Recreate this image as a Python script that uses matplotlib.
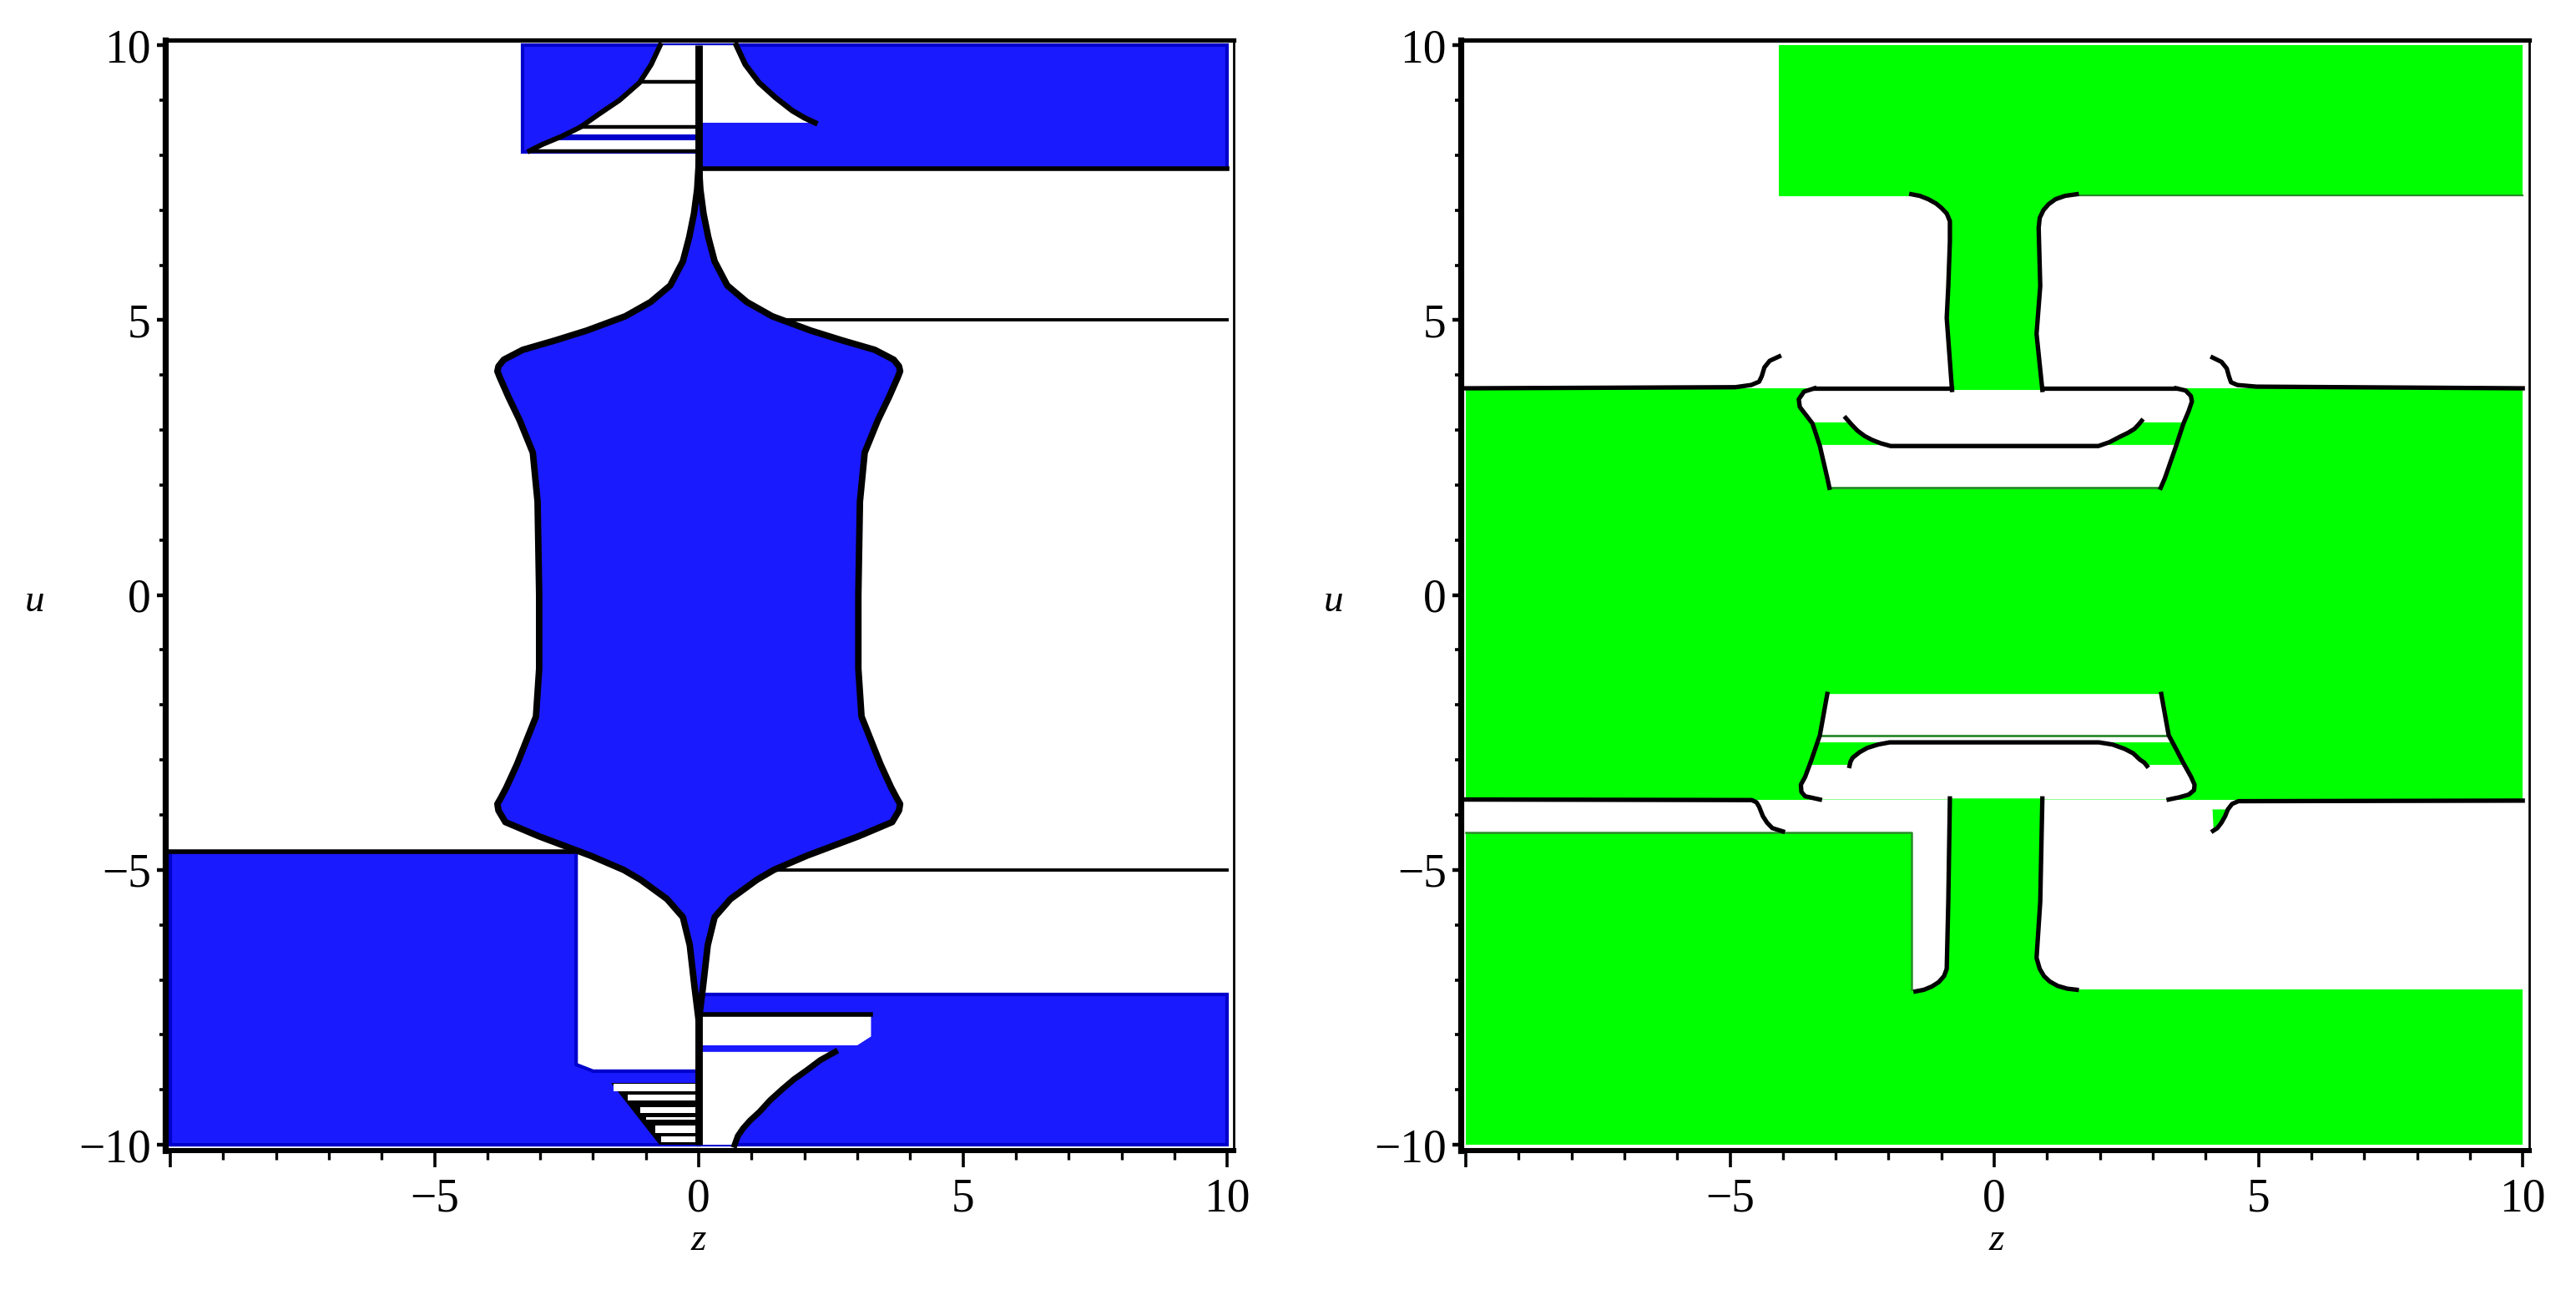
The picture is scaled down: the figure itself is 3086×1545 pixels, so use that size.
import numpy as np
import matplotlib
matplotlib.use("Agg")
import matplotlib.pyplot as plt

# ---------------- data: left panel (blue) ----------------
tl_block_x = [-3.33, 0.0, 0.0, -3.33]
tl_block_u = [10.0, 10.0, 8.06, 8.06]
tr_block_x = [0.0, 10.0, 10.0, 0.0]
tr_block_u = [10.0, 10.0, 7.75, 7.75]
bl_block_x = [-10.0, -2.32, -2.32, -2.0, 0.0, 0.0, -10.0]
bl_block_u = [-4.67, -4.67, -8.54, -8.66, -8.66, -10.0, -10.0]
br_block_x = [0.0, 10.0, 10.0, 0.0]
br_block_u = [-7.27, -7.27, -10.0, -10.0]

tl_wedge_x = [-0.73, -0.9, -1.12, -1.5, -1.9, -2.24, -2.6, -2.95, -3.2, 0.0, 0.0]
tl_wedge_u = [10.0, 9.65, 9.32, 9.0, 8.74, 8.51, 8.34, 8.2, 8.08, 8.08, 10.0]
tl_strip_x = [-2.62, 0.0, 0.0, -2.78]
tl_strip_u = [8.37, 8.37, 8.27, 8.27]
tl_rungs_u = [9.33, 8.51, 8.08]
tl_rungs_x0 = [-1.1, -2.24, -3.2]

tr_wedge_x = [0.0, 0.71, 0.88, 1.14, 1.45, 1.77, 2.0, 2.2, 0.0]
tr_wedge_u = [10.0, 10.0, 9.65, 9.32, 9.05, 8.81, 8.68, 8.59, 8.59]

br_cut_x = [0.0, 3.26, 3.26, 3.0, 0.0]
br_cut_u = [-7.65, -7.65, -8.03, -8.19, -8.19]
br_wedge_x = [0.0, 2.58, 2.3, 2.05, 1.8, 1.58, 1.35, 1.15, 0.97, 0.84, 0.74, 0.68, 0.0]
br_wedge_u = [-8.31, -8.31, -8.46, -8.64, -8.81, -8.99, -9.19, -9.4, -9.56, -9.7, -9.84, -10.0, -10.0]

bl_stair_x = [-1.66, 0.0, 0.0, -0.75]
bl_stair_u = [-8.88, -8.88, -10.0, -10.0]
stair_top = [-8.89, -9.09, -9.32, -9.49, -9.65, -9.85]
stair_bot = [-9.02, -9.19, -9.42, -9.55, -9.78, -9.95]
stair_left = [-1.61, -1.35, -1.11, -1.0, -0.82, -0.71]

blob_u = [7.85, 7.38, 6.94, 6.51, 6.07, 5.63, 5.33, 5.07, 4.81, 4.63, 4.46,
          4.28, 4.16, 4.07, 3.97, 3.6, 3.18, 2.59, 1.7, 0.0, -1.34, -2.21,
          -3.08, -3.5, -3.7, -3.8, -3.92, -4.13, -4.39, -4.74, -5.0, -5.18,
          -5.53, -5.86, -6.37, -7.13, -7.75]
blob_half = [0.0, 0.03, 0.09, 0.18, 0.30, 0.54, 0.91, 1.39, 2.12, 2.72, 3.33,
             3.69, 3.79, 3.81, 3.77, 3.6, 3.39, 3.14, 3.05, 3.02, 3.02, 3.08,
             3.44, 3.64, 3.75, 3.81, 3.79, 3.66, 3.02, 2.05, 1.42, 1.1,
             0.6, 0.3, 0.17, 0.08, 0.0]
hlines_u = [5.0, -5.0]
hlines_x0 = [1.5, 1.42]

# ---------------- data: right panel (green) ----------------
g_top_x = [-4.07, 10.0, 10.0, -4.07]
g_top_u = [10.0, 10.0, 7.26, 7.26]
g_band_x = [-10.0, 10.0, 10.0, -10.0]
g_band_u = [3.76, 3.76, -3.72, -3.72]
g_lowleft_x = [-10.0, -1.57, -1.57, -10.0]
g_lowleft_u = [-4.32, -4.32, -10.0, -10.0]
g_bottom_x = [-10.0, 10.0, 10.0, -10.0]
g_bottom_u = [-7.18, -7.18, -10.0, -10.0]

stem_top_lx = [-1.57, -1.41, -1.25, -1.1, -1.0, -0.9, -0.84, -0.84, -0.87, -0.90, -0.80]
stem_top_lu = [7.29, 7.26, 7.2, 7.12, 7.04, 6.94, 6.8, 6.43, 5.62, 5.04, 3.73]
stem_top_rx = [0.91, 0.80, 0.87, 0.84, 0.86, 0.93, 1.03, 1.16, 1.34, 1.56]
stem_top_ru = [3.73, 4.75, 5.62, 6.68, 6.86, 7.0, 7.11, 7.2, 7.26, 7.29]
stem_bot_lx = [-0.84, -0.87, -0.90, -0.95, -1.05, -1.18, -1.33, -1.49]
stem_bot_lu = [-3.70, -5.58, -6.8, -6.93, -7.04, -7.12, -7.18, -7.21]
stem_bot_rx = [1.56, 1.38, 1.2, 1.05, 0.94, 0.86, 0.80, 0.87, 0.91]
stem_bot_ru = [-7.18, -7.16, -7.11, -7.03, -6.93, -6.8, -6.6, -5.58, -3.70]

cut_top_lx = [-3.4, -3.6, -3.7, -3.68, -3.56, -3.44, -3.30, -3.16, -3.12]
cut_top_lu = [3.76, 3.7, 3.56, 3.42, 3.27, 3.12, 2.71, 2.13, 1.95]
cut_top_rx = [3.15, 3.23, 3.44, 3.58, 3.68, 3.74, 3.72, 3.62, 3.44]
cut_top_ru = [1.95, 2.13, 2.71, 3.12, 3.35, 3.52, 3.62, 3.72, 3.76]
cut_bot_lx = [-3.16, -3.30, -3.46, -3.58, -3.66, -3.65, -3.58, -3.3]
cut_bot_lu = [-1.80, -2.55, -3.0, -3.31, -3.45, -3.58, -3.66, -3.72]
cut_bot_rx = [3.3, 3.5, 3.68, 3.78, 3.79, 3.72, 3.58, 3.44, 3.30, 3.16]
cut_bot_ru = [-3.72, -3.68, -3.63, -3.55, -3.45, -3.3, -3.06, -2.8, -2.55, -1.80]

patch_tl_x = [-3.5, -2.72, -2.59, -2.31, -1.96, -3.30]
patch_tl_u = [3.14, 3.14, 2.99, 2.82, 2.73, 2.73]
patch_tr_x = [1.97, 2.38, 2.65, 2.75, 3.57, 3.44]
patch_tr_u = [2.73, 2.88, 3.02, 3.14, 3.14, 2.73]
patch_bl_x = [-3.36, -1.98, -2.40, -2.68, -2.74, -3.48]
patch_bl_u = [-2.68, -2.68, -2.78, -2.96, -3.09, -3.09]
patch_br_x = [1.98, 3.38, 3.6, 2.89, 2.75, 2.47]
patch_br_u = [-2.68, -2.68, -3.09, -3.09, -2.99, -2.8]
patch_hook_x = [4.13, 4.40, 4.30, 4.15]
patch_hook_u = [-3.90, -3.90, -4.18, -4.27]

inner_top_x = [-2.81, -2.7, -2.59, -2.45, -2.31, -2.15, -1.96, 1.97, 2.18, 2.38, 2.53, 2.65, 2.73, 2.79]
inner_top_u = [3.22, 3.1, 2.99, 2.89, 2.82, 2.76, 2.71, 2.71, 2.78, 2.88, 2.95, 3.02, 3.1, 3.17]
inner_bot_x = [-2.74, -2.72, -2.68, -2.55, -2.40, -2.2, -1.98, 1.98, 2.24, 2.47, 2.63, 2.75, 2.84, 2.89]
inner_bot_u = [-3.11, -3.03, -2.96, -2.86, -2.78, -2.72, -2.68, -2.68, -2.72, -2.80, -2.88, -2.99, -3.05, -3.11]

top_hook_lx = [-10.0, -4.9, -4.6, -4.45, -4.4, -4.35, -4.25, -4.07]
top_hook_lu = [3.76, 3.78, 3.82, 3.88, 3.98, 4.14, 4.26, 4.34]
top_hook_rx = [4.13, 4.3, 4.4, 4.44, 4.48, 4.6, 4.96, 10.0]
top_hook_ru = [4.32, 4.24, 4.12, 3.98, 3.87, 3.82, 3.79, 3.76]
bot_hook_lx = [-10.0, -4.59, -4.5, -4.45, -4.38, -4.3, -4.2, -4.0]
bot_hook_lu = [-3.72, -3.73, -3.77, -3.85, -4.02, -4.14, -4.24, -4.3]
bot_hook_rx = [4.14, 4.22, 4.3, 4.37, 4.42, 4.5, 4.62, 10.0]
bot_hook_ru = [-4.29, -4.24, -4.14, -4.02, -3.9, -3.8, -3.75, -3.74]

green_lines_u = [1.95, -2.56]
green_lines_x = [(-3.12, 3.15), (-3.28, 3.3)]

# ---------------- axes / ticks ----------------
major_ticks = [-10, -5, 0, 5, 10]
minor_ticks = [-9, -8, -7, -6, -4, -3, -2, -1, 1, 2, 3, 4, 6, 7, 8, 9]
x_tick_labels = ["", "\u22125", "0", "5", "10"]
y_tick_labels = ["\u221210", "\u22125", "0", "5", "10"]

BLUE = "#1a1aff"
BLUE_EDGE = "#0000cc"
GREEN = "#00ff00"
DKGREEN = "#2a8a2a"
SERIF = "Liberation Serif"

fig = plt.figure(figsize=(15.43, 7.725), dpi=200)
axL = fig.add_axes([0.06406, 0.1083, 0.4148, 0.8609])
axR = fig.add_axes([0.56698, 0.1083, 0.4148, 0.8609])

for ax in (axL, axR):
    ax.set_xlim(-10.1, 10.12)
    ax.set_ylim(-10.1, 10.1)
    ax.set_xticks(major_ticks)
    ax.set_xticklabels(x_tick_labels)
    ax.set_yticks(major_ticks)
    ax.set_yticklabels(y_tick_labels)
    ax.set_xticks(minor_ticks, minor=True)
    ax.set_yticks(minor_ticks, minor=True)
    ax.tick_params(axis="x", which="major", direction="out", length=7.2, width=1.3,
                   pad=4.5, labelsize=20)
    ax.tick_params(axis="x", which="minor", direction="out", length=4.0, width=1.2)
    ax.tick_params(axis="y", which="major", direction="out", length=3.6, width=1.6,
                   pad=2.5, labelsize=20)
    ax.tick_params(axis="y", which="minor", direction="out", length=2.6, width=1.3)
    for lab in ax.get_xticklabels() + ax.get_yticklabels():
        lab.set_fontfamily(SERIF)
    ax.spines["left"].set_linewidth(2.6)
    ax.spines["bottom"].set_linewidth(2.2)
    ax.spines["top"].set_linewidth(1.9)
    ax.spines["right"].set_linewidth(1.0)
    ax.set_facecolor("white")

# ---------------- left panel ----------------
ax = axL
for bx, bu in [(tl_block_x, tl_block_u), (tr_block_x, tr_block_u),
               (bl_block_x, bl_block_u), (br_block_x, br_block_u)]:
    ax.fill(bx, bu, facecolor=BLUE, edgecolor=BLUE_EDGE, lw=1.5, zorder=1)

nw = len(tl_wedge_x) - 2
ax.fill(tl_wedge_x, tl_wedge_u, facecolor="white", edgecolor="none", zorder=1.2)
ax.fill(tl_strip_x, tl_strip_u, facecolor=BLUE_EDGE, edgecolor="none", zorder=1.3)
for u0, x0 in zip(tl_rungs_u, tl_rungs_x0):
    ax.plot([x0, 0.0], [u0, u0], color="black", lw=1.6, zorder=1.5)
ax.plot(tl_wedge_x[:nw], tl_wedge_u[:nw], color="black", lw=2.2, zorder=1.5)

ax.fill(tr_wedge_x, tr_wedge_u, facecolor="white", edgecolor="none", zorder=1.2)
ax.plot(tr_wedge_x[1:-1], tr_wedge_u[1:-1], color="black", lw=2.4, zorder=1.5)
ax.plot([0.0, 10.0], [tr_block_u[2], tr_block_u[2]], color="black", lw=2.0, zorder=1.5)

ax.fill(br_cut_x, br_cut_u, facecolor="white", edgecolor="none", zorder=1.2)
ax.plot([0.0, 3.26], [br_cut_u[0] + 0.02, br_cut_u[0] + 0.02], color="black", lw=2.0, zorder=1.5)
ax.fill(br_wedge_x, br_wedge_u, facecolor="white", edgecolor="none", zorder=1.2)
ax.plot(br_wedge_x[1:-1], br_wedge_u[1:-1], color="black", lw=2.6, zorder=1.5)

ax.fill(bl_stair_x, bl_stair_u, facecolor="black", edgecolor="none", zorder=1.2)
for t, b, l in zip(stair_top, stair_bot, stair_left):
    ax.fill([l, 0.0, 0.0, l], [t, t, b, b], facecolor="white", edgecolor="none", zorder=1.3)
ax.plot([-10.0, -2.39], [bl_block_u[0], bl_block_u[0]], color="black", lw=2.0, zorder=1.5)

ax.plot([0.0, 0.0], [10.0, -10.0], color="black", lw=3.2, zorder=1.6,
        solid_capstyle="butt")

bu = np.array(blob_u)
bh = np.array(blob_half)
blob_x = np.concatenate([bh, -bh[::-1]])
blob_y = np.concatenate([bu, bu[::-1]])
ax.fill(blob_x, blob_y, facecolor=BLUE, edgecolor="black", lw=2.8, zorder=2,
        joinstyle="round")
for u0, x0 in zip(hlines_u, hlines_x0):
    ax.plot([x0, 10.0], [u0, u0], color="black", lw=1.4, zorder=1.9)

# ---------------- right panel ----------------
ax = axR
for gx, gu in [(g_top_x, g_top_u), (g_band_x, g_band_u),
               (g_lowleft_x, g_lowleft_u), (g_bottom_x, g_bottom_u)]:
    ax.fill(gx, gu, facecolor=GREEN, edgecolor="none", zorder=1)
ax.plot([-10.0, -1.57, -1.57], [-4.32, -4.32, -7.18], color=DKGREEN, lw=0.9, zorder=1.05)
ax.plot([1.56, 10.0], [7.27, 7.27], color=DKGREEN, lw=0.8, zorder=1.05)

cut_top_x = cut_top_lx + cut_top_rx
cut_top_u = cut_top_lu + cut_top_ru
ax.fill(cut_top_x, cut_top_u, facecolor="white", edgecolor="none", zorder=1.2)
cut_bot_x = cut_bot_lx + cut_bot_rx
cut_bot_u = cut_bot_lu + cut_bot_ru
ax.fill(cut_bot_x, cut_bot_u, facecolor="white", edgecolor="none", zorder=1.2)

for px, pu in [(patch_tl_x, patch_tl_u), (patch_tr_x, patch_tr_u),
               (patch_bl_x, patch_bl_u), (patch_br_x, patch_br_u),
               (patch_hook_x, patch_hook_u)]:
    ax.fill(px, pu, facecolor=GREEN, edgecolor="none", zorder=1.3)
for u0, (x0, x1) in zip(green_lines_u, green_lines_x):
    ax.plot([x0, x1], [u0, u0], color=DKGREEN, lw=1.0, zorder=1.35)

ax.fill(stem_top_lx + stem_top_rx, stem_top_lu + stem_top_ru,
        facecolor=GREEN, edgecolor="none", zorder=1.4)
ax.fill(stem_bot_lx + stem_bot_rx, stem_bot_lu + stem_bot_ru,
        facecolor=GREEN, edgecolor="none", zorder=1.4)

LW = 1.9
for xs, us in [(stem_top_lx, stem_top_lu), (stem_top_rx, stem_top_ru),
               (stem_bot_lx, stem_bot_lu), (stem_bot_rx, stem_bot_ru),
               (cut_top_lx, cut_top_lu), (cut_top_rx, cut_top_ru),
               (cut_bot_lx, cut_bot_lu), (cut_bot_rx, cut_bot_ru),
               (inner_top_x, inner_top_u), (inner_bot_x, inner_bot_u),
               (top_hook_lx, top_hook_lu), (top_hook_rx, top_hook_ru),
               (bot_hook_lx, bot_hook_lu), (bot_hook_rx, bot_hook_ru)]:
    ax.plot(xs, us, color="black", lw=LW, zorder=1.6, solid_joinstyle="round")
ax.plot([cut_top_lx[0], stem_top_lx[-1]], [3.76, 3.76], color="black", lw=LW, zorder=1.6)
ax.plot([stem_top_rx[0], cut_top_rx[-1]], [3.76, 3.76], color="black", lw=LW, zorder=1.6)

# ---------------- axis labels ----------------
for xl in (0.0133, 0.5178):
    fig.text(xl, 0.5333, "u", fontsize=17, fontstyle="italic", family=SERIF,
             ha="center", va="center")
for xl in (0.2712, 0.7751):
    fig.text(xl, 0.0382, "z", fontsize=17, fontstyle="italic", family=SERIF,
             ha="center", va="center")

fig.savefig("out.png", dpi=200, facecolor="white")
